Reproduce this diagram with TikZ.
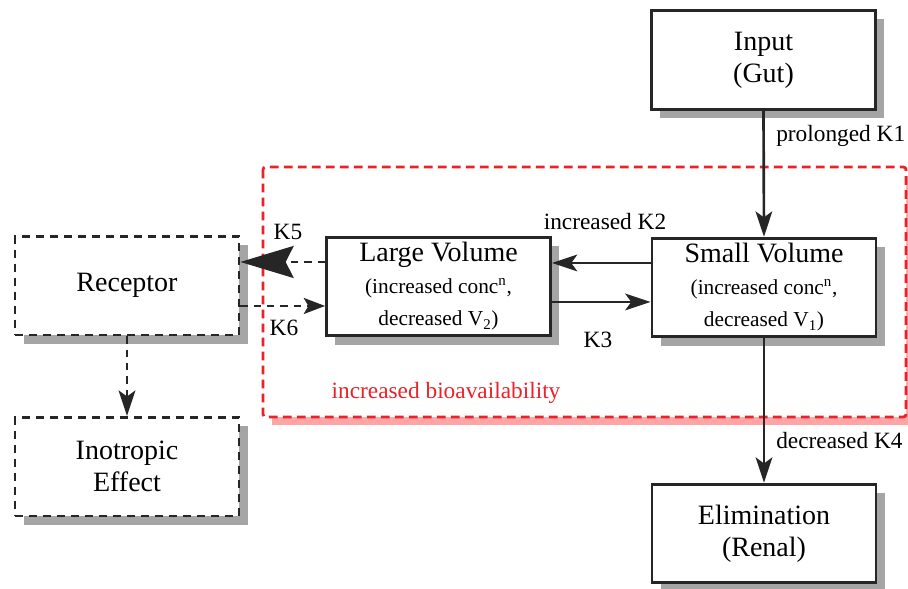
\documentclass[tikz,border=0pt]{standalone}
\usepackage{fontspec}
\setmainfont{Liberation Serif}
\usetikzlibrary{arrows.meta,shadows}
\definecolor{shadegray}{RGB}{165,165,165}
\definecolor{bred}{RGB}{235,35,40}
\definecolor{pinkshade}{RGB}{255,165,165}
\newcommand{\subf}{\fontsize{16}{24}\selectfont}
\begin{document}
\begin{tikzpicture}[x=0.75pt,y=-0.75pt,
  box/.style={draw=black!85, line width=2.1pt, fill=white, minimum width=168pt,
    minimum height=74pt, align=center, inner sep=0pt,
    font=\fontsize{21}{24}\selectfont,
    general shadow={fill=shadegray, shadow xshift=6.5pt, shadow yshift=-6.5pt}},
  dbox/.style={box, line width=2pt, dash pattern=on 6pt off 4.5pt},
  lbl/.style={inner sep=0pt, font=\fontsize{17.5}{20}\selectfont},
  conn/.style={draw=black!85, line width=2pt,
    -{Stealth[length=19pt,width=12.5pt,inset=4.5pt]}},
  dconn/.style={conn, dash pattern=on 5.5pt off 4.5pt}
]
\useasboundingbox (0,0) rectangle (908,589);
\clip (0,0) rectangle (908,589);

% region of increased bioavailability
\fill[pinkshade] (272,176) rectangle (918,425);
\draw[bred, line width=2.1pt, dash pattern=on 6.5pt off 4pt, fill=white,
  rounded corners=2pt] (263,167) rectangle (906,417);

% boxes
\node[box] (inp) at (763.5,60) {Input\\(Gut)};
\node[box] (small) at (764,287.5) {Small Volume\\{\subf (increased conc\textsuperscript{n},}\\{\subf decreased V\textsubscript{1})}};
\node[box] (large) at (438.5,286.5) {Large Volume\\{\subf (increased conc\textsuperscript{n},}\\{\subf decreased V\textsubscript{2})}};
\node[dbox] (rec) at (127,285.5) {Receptor};
\node[dbox] (ino) at (127,466.5) {Inotropic\\Effect};
\node[box] (elim) at (764,533.5) {Elimination\\(Renal)};

% connectors
\draw[conn] (inp.south) -- (small.north);
\draw[conn] ([yshift=18.4pt]small.west) -- ([yshift=18.4pt]small.west -| large.east);
\draw[conn] ([yshift=-11.6pt]large.east) -- ([yshift=-11.6pt]large.east -| small.west);
\draw[dconn, -{Stealth[length=40pt,width=24pt,inset=6pt]}]
  ([yshift=18.4pt]large.west) -- ([yshift=18.4pt]large.west -| rec.east);
\draw[dconn, -{Stealth[length=16pt,width=12pt,inset=3.5pt]}]
  ([yshift=-14.6pt]large.west -| rec.east) -- ([yshift=-14.6pt]large.west);
\draw[dconn] (rec.south) -- (ino.north);
\draw[conn] (small.south) -- (elim.north);

% labels
\node[lbl, anchor=west] (k1) at (776,136) {prolonged K1};
\node[lbl] (k2) at (605,222) {increased K2};
\node[lbl] (k3) at (598,340) {K3};
\node[lbl] (k5) at (288,232) {K5};
\node[lbl] (k6) at (284,328) {K6};
\node[lbl, anchor=west] (k4) at (776,441) {decreased K4};
\node[lbl, text=bred] (bio) at (446,393) {increased bioavailability};
\end{tikzpicture}
\end{document}
